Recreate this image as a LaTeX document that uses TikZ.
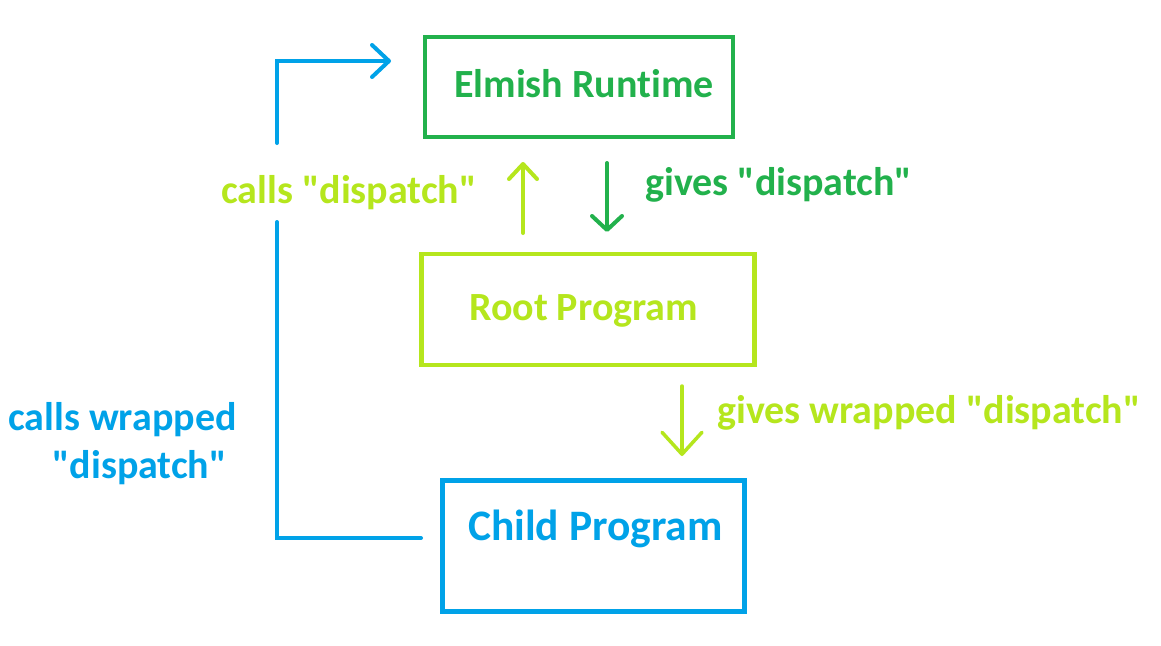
\documentclass[tikz,border=0pt]{standalone}
\usepackage{fontspec}
\setmainfont{Carlito}[Ligatures={TeXOff,CommonOff}]
\usetikzlibrary{arrows.meta}
\definecolor{cgreen}{HTML}{22B14C}
\definecolor{clime}{HTML}{B5E61D}
\definecolor{cblue}{HTML}{00A2E8}
\tikzset{
  box/.style={draw=#1,line width=4.5pt,inner sep=0pt,rectangle},
  lbl/.style={text=#1,font=\bfseries\fontsize{40}{48}\selectfont,inner sep=0pt,anchor=base west},
  conn/.style={draw=#1,line width=4pt,line cap=round,line join=miter},
}
\begin{document}
\begin{tikzpicture}[x=1pt,y=-1pt]
\useasboundingbox[fill=white] (0,0) rectangle (1161,645);
% boxes
\node[box=cgreen,minimum width=308pt,minimum height=100pt] (elmish) at (579,87) {};
\node[box=clime,minimum width=333pt,minimum height=111pt] (root) at (588,309.5) {};
\node[box=cblue,minimum width=302pt,minimum height=131pt] (child) at (593.5,546) {};
% box texts
\node[lbl=cgreen] (tElmish) at (454,97) {Elmish Runtime};
\node[lbl=clime] (tRoot) at (469,320) {Root Program};
\node[lbl=cblue,font=\bfseries\fontsize{43.5}{52}\selectfont] (tChild) at (468,540) {Child Program};
% labels
\node[lbl=cgreen] (tGives) at (645,195) {gives "dispatch"};
\node[lbl=clime] (tCalls) at (221,203) {calls "dispatch"};
\node[lbl=clime] (tGivesW) at (717,423) {gives wrapped "dispatch"};
\node[lbl=cblue] (tCallsW1) at (8,430) {calls wrapped};
\node[lbl=cblue] (tCallsW2) at (52,478) {"dispatch"};
% connector end points
\coordinate (upS) at (523,233);
\coordinate (upE) at (523,162);
\coordinate (dnS) at (607,163);
\coordinate (dnE) at (607,232);
\coordinate (dn2S) at (682,386);
\coordinate (dn2E) at (682,456);
\coordinate (bS) at (421,538);
\coordinate (bC) at (277,538);
\coordinate (bT) at (277,222);
\coordinate (bU) at (277,143);
\coordinate (bK) at (277,61);
\coordinate (bE) at (391,61);
% connectors
\draw[conn=clime,-{Straight Barb[length=15pt,width=28pt,round]}] (upS) -- (upE);
\draw[conn=cgreen,-{Straight Barb[length=14pt,width=30pt,round]}] (dnS) -- (dnE);
\draw[conn=clime,line width=3.5pt,-{Straight Barb[length=22pt,width=40pt,round]}] (dn2S) -- (dn2E);
\draw[conn=cblue] (bS) -- (bC) -- (bT);
\draw[conn=cblue,-{Straight Barb[length=17pt,width=32pt,round]}] (bU) -- (bK) -- (bE);
\end{tikzpicture}
\end{document}
